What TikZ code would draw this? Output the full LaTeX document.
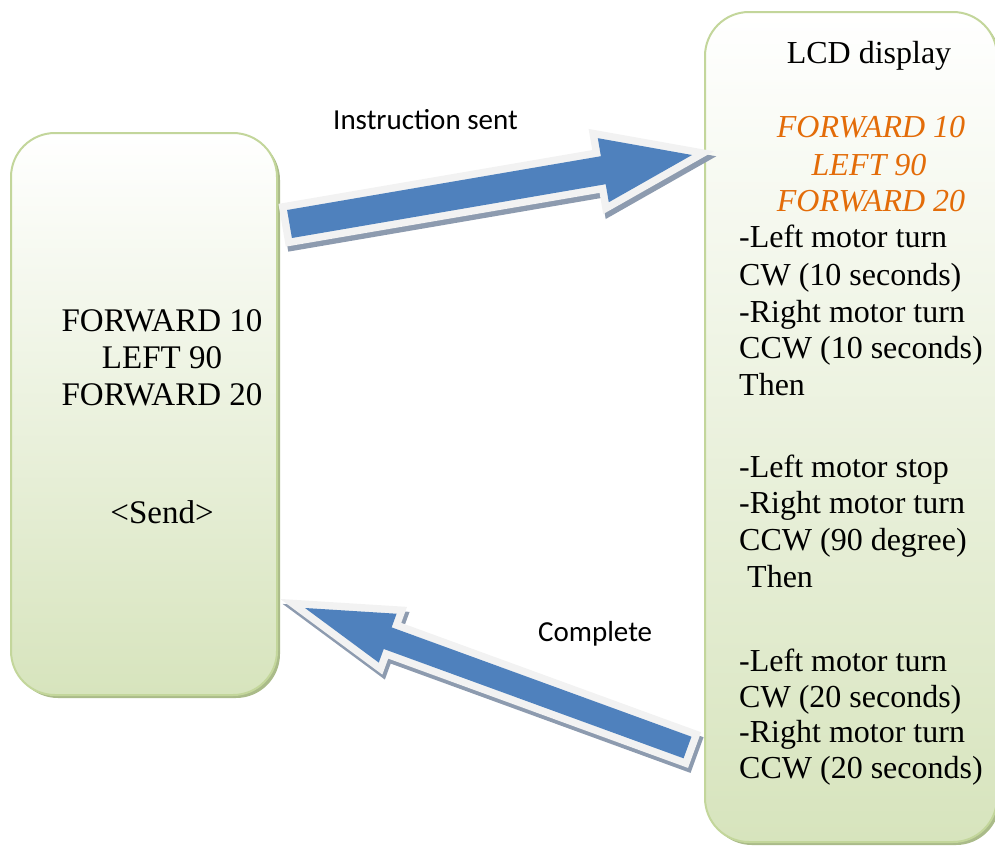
\documentclass[tikz,border=0pt]{standalone}
\usepackage{fontspec}
\setmainfont{Liberation Serif}
\newfontfamily\labelfont{Carlito}
\usetikzlibrary{calc}

\definecolor{boxrim}{HTML}{C3D69B}
\definecolor{boxfill}{HTML}{D7E4BD}
\definecolor{boxshade}{HTML}{AABB89}
\definecolor{arrowblue}{HTML}{4F81BD}
\definecolor{arrowrimc}{HTML}{F2F2F2}
\definecolor{arrowshadowc}{HTML}{8D9BAF}
\definecolor{cmdorange}{HTML}{E36C09}

% Block arrow: #1 prefix, #2 tail centre, #3 tip, #4 half shaft width,
% #5 half head width, #6 head length
\newcommand\blockarrow[6]{%
  \coordinate (#1b)  at ($(#3)!#6!(#2)$);
  \coordinate (#1p1) at ($(#2)!#4!90:(#3)$);
  \coordinate (#1p2) at ($(#1b)!#4!90:(#3)$);
  \coordinate (#1p3) at ($(#1b)!#5!90:(#3)$);
  \coordinate (#1p4) at ($(#1b)!#5!-90:(#3)$);
  \coordinate (#1p5) at ($(#1b)!#4!-90:(#3)$);
  \coordinate (#1p6) at ($(#2)!#4!-90:(#3)$);
  \begin{scope}[transform canvas={shift={(2.5pt,-5pt)}}]
    \filldraw[arrowshadow] (#1p1) -- (#1p2) -- (#1p3) -- (#3) -- (#1p4) -- (#1p5) -- (#1p6) -- cycle;
  \end{scope}
  \filldraw[arrowrim] (#1p1) -- (#1p2) -- (#1p3) -- (#3) -- (#1p4) -- (#1p5) -- (#1p6) -- cycle;
  \fill[arrowbody] (#1p1) -- (#1p2) -- (#1p3) -- (#3) -- (#1p4) -- (#1p5) -- (#1p6) -- cycle;
}

\begin{document}
\begin{tikzpicture}[x=1pt,y=-1pt,
  panel/.style={rounded corners=44pt, draw=boxrim, line width=2pt,
    top color=white, bottom color=boxfill, inner sep=0pt},
  panelshadow/.style={rounded corners=44pt, fill=boxshade},
  arrowshadow/.style={fill=arrowshadowc, draw=arrowshadowc, line width=15pt, line join=miter},
  arrowrim/.style={fill=arrowrimc, draw=arrowrimc, line width=15pt, line join=miter},
  arrowbody/.style={fill=arrowblue},
  txt/.style={inner sep=0pt, font=\fontsize{32}{36}\selectfont},
  bigtxt/.style={inner sep=0pt, font=\fontsize{33}{37}\selectfont},
  cmd/.style={inner sep=0pt, font=\fontsize{32}{36}\selectfont\itshape, text=cmdorange},
  lbl/.style={inner sep=0pt, font=\labelfont\fontsize{29}{34}\selectfont},
]
\useasboundingbox (0,0) rectangle (995,846);

% panels with their drop shadows
\fill[panelshadow] (14,136) rectangle (280,698);
\node[panel, minimum width=266pt, minimum height=562pt] (sender) at (144,414) {};
\fill[panelshadow] (708,15) rectangle (1000,845);
\node[panel, minimum width=292pt, minimum height=830pt] (lcd) at (851,427) {};

% sender text
\node[bigtxt, anchor=base] (s1) at (162,331) {FORWARD 10};
\node[bigtxt, anchor=base] (s2) at (162,368) {LEFT 90};
\node[bigtxt, anchor=base] (s3) at (162,405) {FORWARD 20};
\node[bigtxt, anchor=base] (send) at (162,523) {<Send>};

% LCD display text
\node[txt, anchor=base] (title) at (869,63) {LCD display};
\node[cmd, anchor=base] (c1) at (871,137) {FORWARD 10};
\node[cmd, anchor=base] (c2) at (869,175) {LEFT 90};
\node[cmd, anchor=base] (c3) at (871,211) {FORWARD 20};

\node[txt, anchor=base west] (a1) at (739,247) {-Left motor turn};
\node[txt, anchor=base west] (a2) at (739,285) {CW (10 seconds)};
\node[txt, anchor=base west] (a3) at (739,322) {-Right motor turn};
\node[txt, anchor=base west] (a4) at (739,358) {CCW (10 seconds)};
\node[txt, anchor=base west] (a5) at (739,395) {Then};

\node[txt, anchor=base west] (b1) at (739,477) {-Left motor stop};
\node[txt, anchor=base west] (b2) at (739,513) {-Right motor turn};
\node[txt, anchor=base west] (b3) at (739,550) {CCW (90 degree)};
\node[txt, anchor=base west] (b4) at (739,587) {\ Then};

\node[txt, anchor=base west] (d1) at (739,671) {-Left motor turn};
\node[txt, anchor=base west] (d2) at (739,707) {CW (20 seconds)};
\node[txt, anchor=base west] (d3) at (739,742) {-Right motor turn};
\node[txt, anchor=base west] (d4) at (739,778) {CCW (20 seconds)};

% block arrows between the panels
\coordinate (sendtail) at (289.5,224);
\coordinate (sendtip)  at (692,155);
\coordinate (donetail) at (687.5,747.5);
\coordinate (donetip)  at (305,608);
\blockarrow{up}{sendtail}{sendtip}{14.2pt}{32.5pt}{90pt}
\blockarrow{dn}{donetail}{donetip}{11.5pt}{26pt}{88pt}

% arrow labels
\node[lbl, anchor=base west] (sent) at (333,129) {Instruction sent};
\node[lbl, anchor=base west] (done) at (538,641) {Complete};
\end{tikzpicture}
\end{document}
